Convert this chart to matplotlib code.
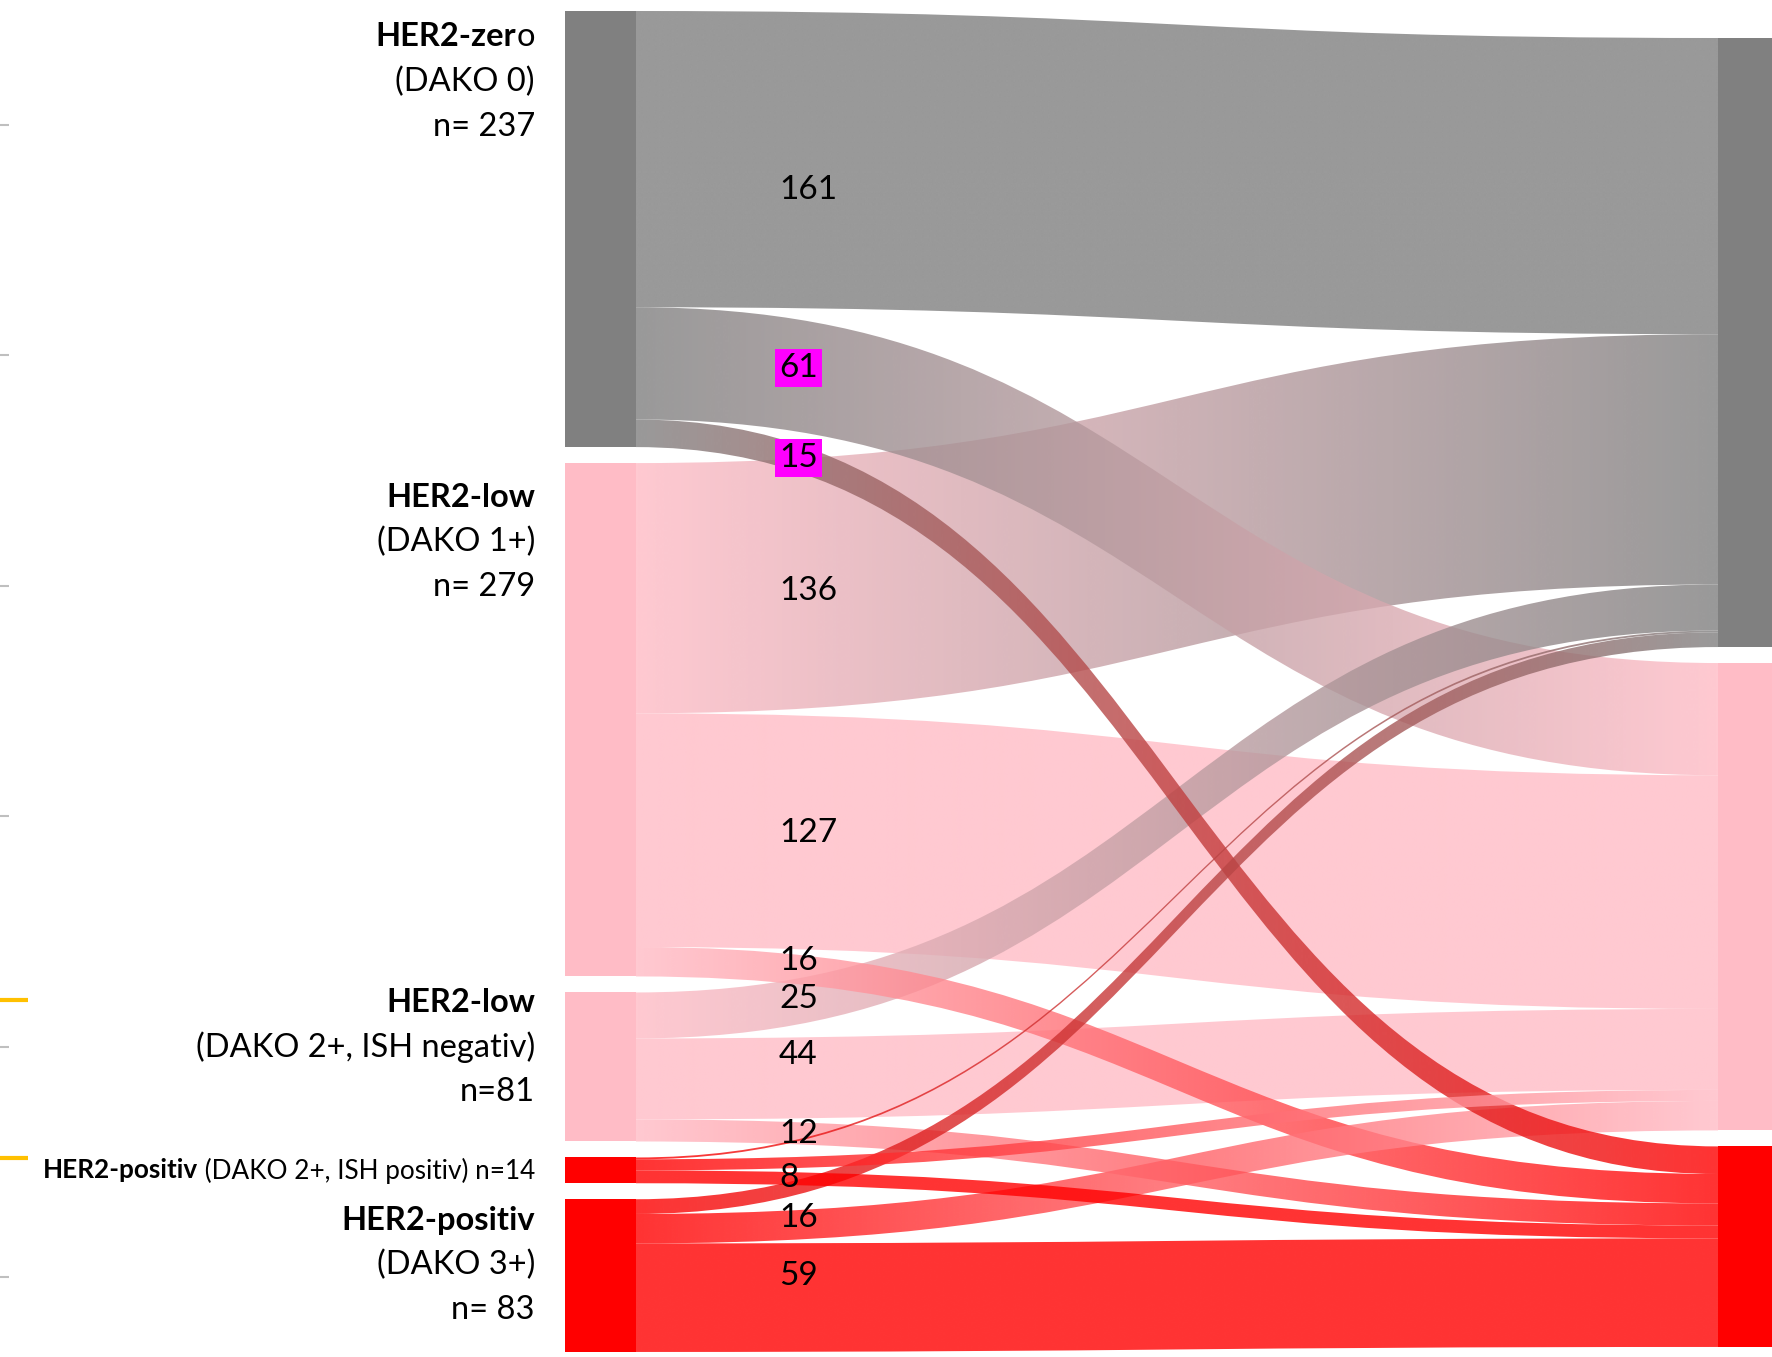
import numpy as np
import matplotlib
matplotlib.use('Agg')
import matplotlib.pyplot as plt
from matplotlib.path import Path
from matplotlib.patches import PathPatch, Rectangle
from matplotlib.colors import to_rgba

plt.rcParams['font.family'] = ['Lato', 'DejaVu Sans']

#%% data
# left nodes = initial HER2 rating, right nodes = re-rating (zero / low / positiv)
left_titles = ['HER2-zero', 'HER2-low', 'HER2-low', 'HER2-positiv', 'HER2-positiv']
left_details = ['(DAKO 0)', '(DAKO 1+)', '(DAKO 2+, ISH negativ)', '(DAKO 2+, ISH positiv)', '(DAKO 3+)']
left_counts = [237, 279, 81, 14, 83]
left_count_fmt = ['n= {}', 'n= {}', 'n={}', 'n={}', 'n= {}']
left_group = [0, 1, 1, 2, 2]
right_group = [0, 1, 2]

flow_src = [0, 0, 0, 1, 1, 1, 2, 2, 2, 3, 3, 3, 4, 4, 4]
flow_dst = [0, 1, 2, 0, 1, 2, 0, 1, 2, 0, 1, 2, 0, 1, 2]
flow_val = [161, 61, 15, 136, 127, 16, 25, 44, 12, 1, 6, 7, 8, 16, 59]
flow_lbl = ['161', '61', '15', '136', '127', '16', '25', '44', '12', '', '', '', '8', '16', '59']
flow_marked = ['61', '15']   # labels with magenta background

#%% layout / style
group_colors = ['#808080', '#FFBCC6', '#FF0000']
k = 1.84            # px per case
node_w = 71
left_x = 565
right_x = 1718
left_top, left_gap = 11, 16
right_top, right_gap = 38, 16
link_alpha = 0.8
label_x = 779
label_probe_x = 808
label_nudge = [30, -9, -4, 8, 0, -10, 0, -23, 0, 0, 0, 0, -6, -6, -21]
title_offset = [26, 34, 10, 13, 21]   # first text line below node top
line_step = 45
text_right = 535
fs_node, fs_small, fs_flow = 23.5, 18.8, 24

fig = plt.figure(figsize=(17.72, 13.57), dpi=100)
ax = fig.add_axes([0, 0, 1, 1])
ax.set_xlim(0, 1772)
ax.set_ylim(1357, 0)
ax.axis('off')

# node positions
left_y = []
y = left_top
for c in left_counts:
    left_y.append(y)
    y += c * k + left_gap

right_tot = [sum(v for v, d in zip(flow_val, flow_dst) if d == j) for j in range(len(right_group))]
right_y = []
y = right_top
for c in right_tot:
    right_y.append(y)
    y += c * k + right_gap

# band positions at both ends
src_off = list(left_y)
dst_off = list(right_y)
bands = [None] * len(flow_val)
for i in range(len(flow_val)):
    s = flow_src[i]
    h = flow_val[i] * k
    bands[i] = [src_off[s], src_off[s] + h, 0, 0]
    src_off[s] += h
for j in range(len(right_tot)):
    for s in range(len(left_counts)):
        for i in range(len(flow_val)):
            if flow_src[i] == s and flow_dst[i] == j:
                h = flow_val[i] * k
                bands[i][2] = dst_off[j]
                bands[i][3] = dst_off[j] + h
                dst_off[j] += h

x0 = left_x + node_w
x1 = right_x
xm = (x0 + x1) / 2

def bez_y(ya, yb, x):
    t = np.linspace(0, 1, 2001)
    xs = (1 - t)**3 * x0 + 3 * (1 - t)**2 * t * xm + 3 * (1 - t) * t**2 * xm + t**3 * x1
    tt = t[np.argmin(np.abs(xs - x))]
    return ya + (yb - ya) * (3 * tt**2 - 2 * tt**3)

# links, big ones first
order = np.argsort(flow_val)[::-1]
for i in order:
    ys0, ys1, yt0, yt1 = bands[i]
    verts = [(x0, ys0), (xm, ys0), (xm, yt0), (x1, yt0),
             (x1, yt1), (xm, yt1), (xm, ys1), (x0, ys1), (x0, ys0)]
    codes = [Path.MOVETO, Path.CURVE4, Path.CURVE4, Path.CURVE4,
             Path.LINETO, Path.CURVE4, Path.CURVE4, Path.CURVE4, Path.CLOSEPOLY]
    patch = PathPatch(Path(verts, codes), facecolor='none', edgecolor='none')
    ax.add_patch(patch)
    c0 = np.array(to_rgba(group_colors[left_group[flow_src[i]]]))
    c1 = np.array(to_rgba(group_colors[right_group[flow_dst[i]]]))
    f = np.linspace(0, 1, 256)[:, None]
    grad = c0 * (1 - f) + c1 * f
    grad[:, 3] = link_alpha
    im = ax.imshow(grad[None, :, :], extent=(x0, x1, max(ys1, yt1) + 2, min(ys0, yt0) - 2),
                   aspect='auto', interpolation='bilinear', zorder=1)
    im.set_clip_path(patch)

# nodes
for i, c in enumerate(left_counts):
    ax.add_patch(Rectangle((left_x, left_y[i]), node_w, c * k,
                           color=group_colors[left_group[i]], lw=0, zorder=2))
for j, c in enumerate(right_tot):
    ax.add_patch(Rectangle((right_x, right_y[j]), node_w, c * k,
                           color=group_colors[right_group[j]], lw=0, zorder=2))

# flow labels
for i, lab in enumerate(flow_lbl):
    if not lab:
        continue
    ys0, ys1, yt0, yt1 = bands[i]
    yl = bez_y((ys0 + ys1) / 2, (yt0 + yt1) / 2, label_probe_x) + label_nudge[i]
    box = dict(facecolor='#FF00FF', edgecolor='none', pad=3) if lab in flow_marked and i < 3 else None
    ax.text(label_x, yl, lab, ha='left', va='center', fontsize=fs_flow, color='black', bbox=box, zorder=5)

# node labels
renderer = fig.canvas.get_renderer()

def rtext(x, y, segs, size):
    for s, w in reversed(segs):
        t = ax.text(x, y, s, ha='right', va='center', fontsize=size, fontweight=w, zorder=5)
        x -= t.get_window_extent(renderer).width

for i in range(len(left_counts)):
    yt = left_y[i] + title_offset[i]
    cnt = left_count_fmt[i].format(left_counts[i])
    if left_counts[i] < 20:
        rtext(text_right, yt, [(left_titles[i], 'bold'), (' ' + left_details[i] + ' ' + cnt, 'normal')], fs_small)
        continue
    if i == 0:
        rtext(text_right, yt, [(left_titles[i][:-1], 'bold'), (left_titles[i][-1], 'normal')], fs_node)
    else:
        rtext(text_right, yt, [(left_titles[i], 'bold')], fs_node)
    rtext(text_right, yt + line_step, [(left_details[i], 'normal')], fs_node)
    rtext(text_right, yt + 2 * line_step, [(cnt, 'normal')], fs_node)

# leftover axis ticks at the left edge
ax.hlines(125 + 230.4 * np.arange(6), 0, 9, color='#BFBFBF', lw=1.5)
ax.hlines([left_y[2] + title_offset[2] - 2, left_y[3] + title_offset[3] - 12], 0, 28, color='#FFC000', lw=3)

fig.savefig('out.png', dpi=100)
